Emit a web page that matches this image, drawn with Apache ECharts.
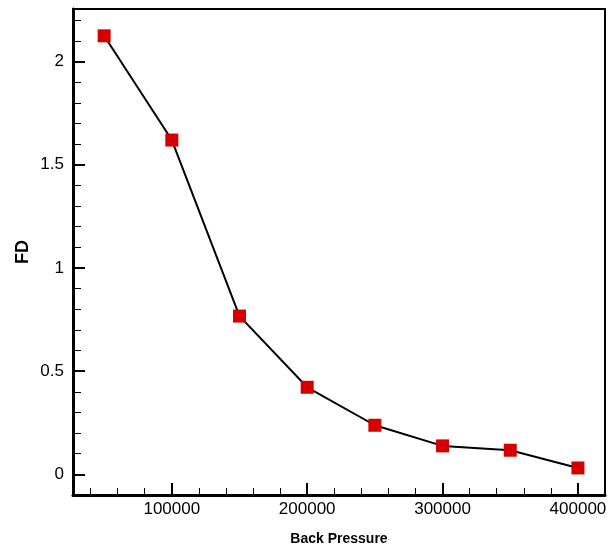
<!DOCTYPE html>
<html>
<head>
<meta charset="utf-8">
<script src="https://cdn.jsdelivr.net/npm/echarts@6/dist/echarts.min.js"></script>
<style>
  html, body { margin: 0; padding: 0; background: #fff; }
  #chart { width: 608px; height: 549px; }
</style>
</head>
<body>
<div id="chart"></div>
<script>
const pressure = [50000, 100000, 150000, 200000, 250000, 300000, 350000, 400000]
const fd = [2.125, 1.62, 0.767, 0.422, 0.238, 0.138, 0.117, 0.031]

const xMajor = [100000, 200000, 300000, 400000]
const xMinor = [40000, 60000, 80000, 120000, 140000, 160000, 180000, 220000, 240000, 260000, 280000,
  320000, 340000, 360000, 380000, 420000]
const yMajor = [0, 0.5, 1, 1.5, 2]
const yMinor = [-0.1, 0.1, 0.2, 0.3, 0.4, 0.6, 0.7, 0.8, 0.9, 1.1, 1.2, 1.3, 1.4, 1.6, 1.7, 1.8, 1.9, 2.1, 2.2]

const xMin = 27000, xMax = 420000
const yMin = -0.1, yMax = 2.255

const chart = echarts.init(document.getElementById('chart'))

const labelFont = { fontFamily: 'Liberation Sans, Arial, sans-serif', fontSize: 17, color: '#000' }

chart.setOption({
  animation: false,
  grid: {
    left: 73, right: 3, top: 9, bottom: 54,
    outerBoundsMode: 'none',
    show: true, borderColor: '#000', borderWidth: 2
  },
  xAxis: [
    {
      type: 'value', min: xMin, max: xMax,
      name: 'Back Pressure', nameLocation: 'middle', nameGap: 37, nameMoveOverlap: false,
      nameTextStyle: { fontFamily: 'Liberation Sans, Arial, sans-serif', fontSize: 14, fontWeight: 'bold', color: '#000' },
      axisLine: { show: true, onZero: false, lineStyle: { color: '#000', width: 3 } },
      axisTick: { show: true, inside: true, length: 12, customValues: xMajor, lineStyle: { color: '#000', width: 2 } },
      axisLabel: Object.assign({ customValues: xMajor, margin: 6, formatter: v => String(v) }, labelFont),
      splitLine: { show: false }
    },
    {
      type: 'value', min: xMin, max: xMax, position: 'bottom',
      axisLine: { show: false, onZero: false },
      axisTick: { show: true, inside: true, length: 7, customValues: xMinor, lineStyle: { color: '#000', width: 1 } },
      axisLabel: { show: false },
      splitLine: { show: false }
    }
  ],
  yAxis: [
    {
      type: 'value', min: yMin, max: yMax,
      name: 'FD', nameLocation: 'middle', nameGap: 41, nameRotate: 90, nameMoveOverlap: false,
      nameTextStyle: { fontFamily: 'Liberation Sans, Arial, sans-serif', fontSize: 18, fontWeight: 'bold', color: '#000' },
      axisLine: { show: true, onZero: false, lineStyle: { color: '#000', width: 3 } },
      axisTick: { show: true, inside: true, length: 12, customValues: yMajor, lineStyle: { color: '#000', width: 2 } },
      axisLabel: Object.assign({ customValues: yMajor, margin: 9 }, labelFont),
      splitLine: { show: false }
    },
    {
      type: 'value', min: yMin, max: yMax, position: 'left',
      axisLine: { show: false, onZero: false },
      axisTick: { show: true, inside: true, length: 8, customValues: yMinor, lineStyle: { color: '#000', width: 1 } },
      axisLabel: { show: false },
      splitLine: { show: false }
    }
  ],
  series: [
    {
      type: 'line',
      xAxisIndex: 0, yAxisIndex: 0,
      data: pressure.map((p, i) => [p, fd[i]]),
      symbol: 'rect',
      symbolSize: 13,
      itemStyle: { color: '#d40000' },
      lineStyle: { color: '#000', width: 2 }
    }
  ]
})
</script>
</body>
</html>
